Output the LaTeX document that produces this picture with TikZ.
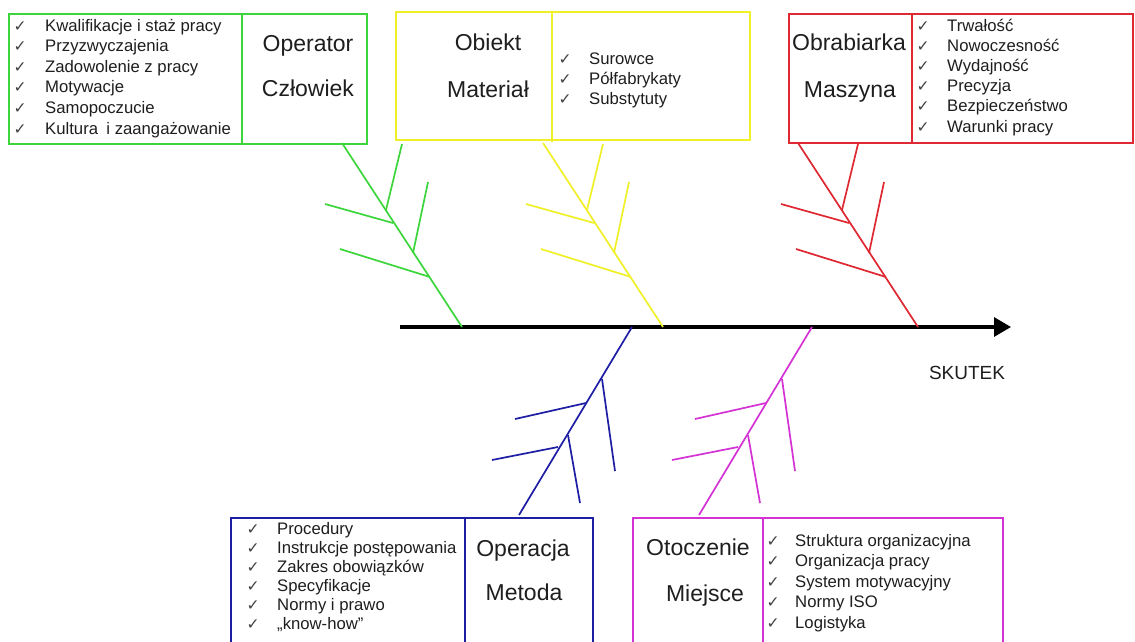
\documentclass[tikz,border=0pt]{standalone}
\usepackage{fontspec}
\setmainfont{Liberation Sans}
\newfontfamily\symf{DejaVu Sans}
\usetikzlibrary{arrows.meta}

\definecolor{cgreen}{RGB}{60,214,60}
\definecolor{cyellow}{RGB}{240,240,40}
\definecolor{cred}{RGB}{222,40,50}
\definecolor{cblue}{RGB}{30,30,165}
\definecolor{cmag}{RGB}{212,50,212}
\definecolor{ink}{RGB}{30,30,30}

\tikzset{
  frame/.style={draw=#1, line width=2pt},
  bone/.style={draw=#1, line width=1.7pt},
  item/.style={anchor=base west, inner sep=0pt, text=ink,
               font=\fontsize{16.7}{20}\selectfont},
  chk/.style={anchor=base, inner sep=0pt, text=ink!85,
              font=\symf\fontsize{15.5}{18}\selectfont},
  head/.style={anchor=base, inner sep=0pt, text=ink,
               font=\fontsize{23}{28}\selectfont},
  % rib pattern of a cause branch above the axis, drawn from its foot on the axis
  topbone/.pic={
    \draw (-120,-184) -- (0,0);
    \draw (-137,-123) -- (-69,-104);
    \draw (-122,-78) -- (-32,-50);
    \draw (-60,-183) -- (-76,-117);
    \draw (-34,-145) -- (-49,-74);
  },
  % rib pattern of a cause branch below the axis, drawn from its head on the axis
  lowbone/.pic={
    \draw (0,0) -- (-113,188);
    \draw (-117,92) -- (-46,76);
    \draw (-140,133) -- (-74,120);
    \draw (-30,52) -- (-17,144);
    \draw (-64,108) -- (-52,176);
  }
}

% #1 prefix, #2 check x, #3 text x, #4 first baseline, #5 line step, #6 items
\newcommand\ticklist[6]{%
  \foreach \t [count=\i] in {#6} {
    \node[chk]  (#1c\i) at (#2, {#4+(\i-1)*#5}) {✓};
    \node[item] (#1t\i) at (#3, {#4+(\i-1)*#5}) {\t};
  }%
}

\begin{document}
\begin{tikzpicture}[x=1pt,y=-1pt]
\useasboundingbox (0,0) rectangle (1135,641);
\clip (0,0) rectangle (1135,641);
\fill[white] (0,0) rectangle (1135,641);

% --- main axis ---
\coordinate (axL) at (400,327);
\coordinate (axR) at (1011,327);
\draw[line width=3.2pt, -{Triangle[length=17pt,width=19pt]}] (axL) -- (axR);
\node[anchor=base, inner sep=0pt, text=ink, font=\fontsize{19}{22}\selectfont]
  (skutek) at (967,379) {SKUTEK};

% --- cause branches ---
\pic[bone=cgreen]  (gb) at (462,327) {topbone};
\pic[bone=cyellow] (yb) at (663,327) {topbone};
\pic[bone=cred]    (rb) at (918,327) {topbone};
\pic[bone=cblue]   (bb) at (632,327) {lowbone};
\pic[bone=cmag]    (mb) at (812,327) {lowbone};

% --- Człowiek ---
\draw[frame=cgreen] (9,14) rectangle (367,144);
\draw[frame=cgreen] (242,14) -- (242,144);
\ticklist{g}{20}{45}{31}{20.6}{Kwalifikacje i staż pracy, Przyzwyczajenia,
  Zadowolenie z pracy, Motywacje, Samopoczucie, Kultura\enspace i zaangażowanie}
\node[head] (gh1) at (308,51) {Operator};
\node[head] (gh2) at (308,96) {Człowiek};

% --- Materiał ---
\draw[frame=cyellow] (396,12) rectangle (750,140);
\draw[frame=cyellow] (552,12) -- (552,142);
\node[head] (yh1) at (488,50) {Obiekt};
\node[head] (yh2) at (488,97) {Materiał};
\ticklist{y}{565}{589}{64}{20}{Surowce, Półfabrykaty, Substytuty}

% --- Maszyna ---
\draw[frame=cred] (789,14) rectangle (1133,143);
\draw[frame=cred] (912,14) -- (912,143);
\node[head] (rh1) at (849,50) {Obrabiarka};
\node[head] (rh2) at (850,97) {Maszyna};
\ticklist{r}{923}{947}{31}{20.2}{Trwałość, Nowoczesność, Wydajność, Precyzja,
  Bezpieczeństwo, Warunki pracy}

% --- Metoda ---
\draw[frame=cblue] (231,518) rectangle (593,660);
\draw[frame=cblue] (465,518) -- (465,660);
\ticklist{b}{253}{277}{534}{19.1}{Procedury, Instrukcje postępowania,
  Zakres obowiązków, Specyfikacje, Normy i prawo, „know-how”}
\node[head] (bh1) at (523,556) {Operacja};
\node[head] (bh2) at (524,600) {Metoda};

% --- Miejsce ---
\draw[frame=cmag] (633,518) rectangle (1003,660);
\draw[frame=cmag] (763,518) -- (763,660);
\node[head] (mh1) at (698,555) {Otoczenie};
\node[head] (mh2) at (705,601) {Miejsce};
\ticklist{m}{773}{795}{546}{20.5}{Struktura organizacyjna, Organizacja pracy,
  System motywacyjny, Normy ISO, Logistyka}
\end{tikzpicture}
\end{document}
